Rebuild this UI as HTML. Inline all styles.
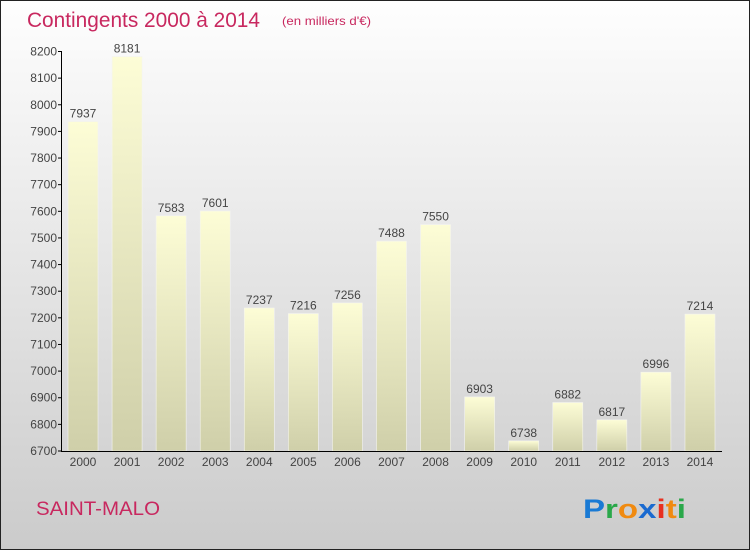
<!DOCTYPE html>
<html><head><meta charset="utf-8"><style>
body{margin:0}
#c{position:relative;width:750px;height:550px;box-sizing:border-box;border:1px solid #222;background:linear-gradient(#fefefe,#cbcbcb);font-family:"Liberation Sans",sans-serif;overflow:hidden}
</style></head><body>
<div id="c">
<svg id="s" width="748" height="548" style="position:absolute;left:0;top:0">
<defs><linearGradient id="g" x1="0" y1="0" x2="0" y2="1"><stop offset="0" stop-color="#fdfdd6"/><stop offset="1" stop-color="#cfcfa9"/></linearGradient></defs>
<text x="26" y="26" font-size="21" fill="#c8285f" textLength="233" lengthAdjust="spacingAndGlyphs">Contingents 2000 à 2014</text>
<text x="281" y="24" font-size="12" fill="#c8285f" textLength="89" lengthAdjust="spacingAndGlyphs">(en milliers d'€)</text>
<text x="35" y="514" font-size="19" fill="#c8285f" textLength="124" lengthAdjust="spacingAndGlyphs">SAINT-MALO</text>
<g font-size="27" font-weight="bold" font-family="'Liberation Sans',sans-serif">
<text x="582" y="517" textLength="103" lengthAdjust="spacingAndGlyphs"><tspan fill="#1a7ad4">P</tspan><tspan fill="#2aa84a">r</tspan><tspan fill="#f08a10">o</tspan><tspan fill="#1a6ad0">x</tspan><tspan fill="#e83020">i</tspan><tspan fill="#f08a10">t</tspan><tspan fill="#2aa84a">i</tspan></text></g>
</svg>
</div>
<script>
const years=["2000","2001","2002","2003","2004","2005","2006","2007","2008","2009","2010","2011","2012","2013","2014"];
const values=[7937,8181,7583,7601,7237,7216,7256,7488,7550,6903,6738,6882,6817,6996,7214];
const ticks=[6700,6800,6900,7000,7100,7200,7300,7400,7500,7600,7700,7800,7900,8000,8100,8200];
const s=document.getElementById('s'),NS="http://www.w3.org/2000/svg";
const yMin=6700,yMax=8200,yTop=50.5,yBot=450;
const y=v=>yBot-(v-yMin)/(yMax-yMin)*(yBot-yTop);
const x=i=>67+i*44.07;
function el(t,a){const e=document.createElementNS(NS,t);for(const k in a)e.setAttribute(k,a[k]);s.appendChild(e);return e;}
values.forEach((v,i)=>{
const r=el('rect',{x:x(i),y:y(v),width:30,height:yBot-y(v),fill:'url(#g)',stroke:'#f4f4f0','stroke-width':0.6});


const t=el('text',{x:x(i)+15,y:y(v)-4,'font-size':12,'text-anchor':'middle',fill:'#444'});t.textContent=v;


const xl=el('text',{x:x(i)+15,y:465,'font-size':12,'text-anchor':'middle',fill:'#444'});xl.textContent=years[i];


});
const ya=el('line',{x1:60.5,x2:60.5,y1:yTop,y2:yBot,stroke:'#000'});


const xa=el('line',{x1:60,x2:721,y1:yBot+0.5,y2:yBot+0.5,stroke:'#000'});


ticks.forEach(t=>{
el('line',{x1:57,x2:61,y1:y(t),y2:y(t),stroke:'#000'});
const l=el('text',{x:56,y:y(t)+4,'font-size':12,'text-anchor':'end',fill:'#444'});l.textContent=t;


});
</script>
</body></html>
